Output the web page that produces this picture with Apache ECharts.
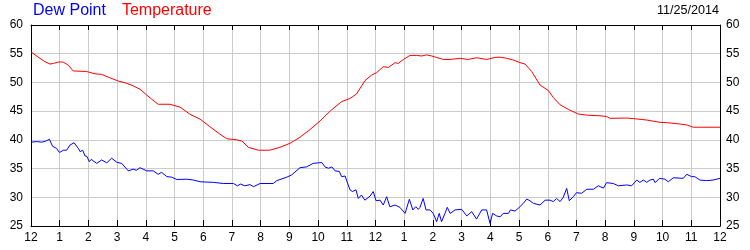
<!DOCTYPE html>
<html><head><meta charset="utf-8">
<script src="https://cdn.jsdelivr.net/npm/echarts@6/dist/echarts.min.js"></script>
<style>html,body{margin:0;padding:0;background:#fff}#c{width:750px;height:250px}</style>
</head><body><div id="c"></div>
<script>
var hourLabels = ["12","1","2","3","4","5","6","7","8","9","10","11","12","1","2","3","4","5","6","7","8","9","10","11","12"];
var yTicks = [25,30,35,40,45,50,55,60];
var dateText = "11/25/2014";

var tempHours = [0,0.31,0.49,0.66,0.78,0.95,1.12,1.30,1.47,1.94,2.23,2.46,2.75,3.04,3.33,3.56,3.80,4.03,4.20,4.43,4.84,5.19,5.54,5.89,6.23,6.58,6.82,7.17,7.35,7.57,7.92,8.32,8.67,9.02,9.37,9.72,10.07,10.44,10.82,11.11,11.34,11.63,11.87,12.04,12.27,12.45,12.68,12.79,12.97,13.2,13.43,13.61,13.78,13.96,14.13,14.36,14.6,14.94,15.23,15.52,15.87,16.16,16.34,16.57,16.8,17.03,17.21,17.44,17.73,18.02,18.19,18.43,18.72,19.06,19.36,19.82,20.05,20.17,20.75,20.98,21.45,21.91,22.14,22.61,22.84,23.07,23.3,24];
var tempValues = [55.3,54.2,53.6,53.2,53.3,53.55,53.55,53.0,52.0,51.9,51.5,51.4,50.8,50.25,49.85,49.4,48.8,47.8,47.1,46.2,46.2,45.7,44.45,43.6,42.3,41.0,40.2,40.0,39.8,38.7,38.2,38.2,38.7,39.4,40.45,41.8,43.3,45.1,46.65,47.2,48.0,50.3,51.3,51.7,52.75,52.6,53.45,53.3,54.0,54.7,54.7,54.6,54.8,54.6,54.35,54.0,54.0,54.2,54.0,54.3,54.0,54.35,54.4,54.2,53.9,53.45,53.2,51.9,49.55,48.6,47.4,46.1,45.3,44.5,44.3,44.2,44.05,43.75,43.8,43.7,43.45,43.05,43.0,42.75,42.6,42.2,42.2,42.2];

var dewHours = [0,0.2,0.37,0.5,0.64,0.75,0.89,0.99,1.13,1.24,1.36,1.50,1.65,1.71,1.80,1.88,1.95,2.03,2.1,2.29,2.46,2.64,2.81,2.99,3.16,3.39,3.56,3.67,3.8,4.03,4.26,4.43,4.55,4.73,4.9,5.08,5.42,5.66,5.89,6.35,6.70,7.05,7.19,7.3,7.45,7.63,7.75,7.98,8.44,8.56,8.91,9.08,9.37,9.6,9.83,10.01,10.13,10.24,10.36,10.48,10.59,10.74,10.82,10.94,11.11,11.2,11.32,11.40,11.51,11.63,11.81,11.92,12.02,12.16,12.27,12.39,12.5,12.68,12.85,13.03,13.18,13.3,13.4,13.49,13.55,13.66,13.76,13.9,14.01,14.13,14.22,14.3,14.42,14.5,14.6,14.77,15.0,15.18,15.35,15.52,15.7,15.87,15.99,16.08,16.22,16.34,16.45,16.63,16.7,16.86,17.03,17.15,17.27,17.38,17.5,17.73,17.91,18.08,18.19,18.31,18.43,18.54,18.66,18.75,18.89,19.0,19.18,19.36,19.59,19.76,19.94,20.05,20.28,20.46,20.75,20.92,21.1,21.21,21.33,21.45,21.56,21.68,21.74,21.89,22.08,22.2,22.37,22.72,22.84,23.01,23.12,23.3,23.53,23.76,24];
var dewValues = [39.6,39.7,39.6,39.75,40.1,38.9,38.5,37.8,38.2,38.2,39.1,39.5,38.5,37.95,38.2,37.2,37.1,36.2,36.6,35.9,36.5,36.0,36.8,36.1,35.9,34.6,34.9,34.7,35.15,34.6,34.6,34.0,34.35,33.6,33.5,33.1,33.15,33.0,32.7,32.6,32.4,32.4,32.0,32.3,32.0,32.2,31.85,32.4,32.4,32.9,33.5,33.9,35.15,35.3,35.9,36.0,36.05,35.3,35.05,35.3,34.6,34.5,33.6,33.7,31.3,31.0,31.3,29.8,30.4,29.5,30.2,31.0,29.4,29.5,28.65,30.1,28.35,28.65,28.25,27.2,29.65,27.8,28.35,27.9,28.25,29.8,27.8,27.8,27.2,25.75,27.2,25.75,27.2,28.25,27.2,27.8,27.9,26.75,27.5,26.2,27.8,27.8,25.45,27.2,26.75,26.6,27.2,27.2,27.8,27.6,28.35,28.95,29.7,29.4,28.95,28.65,29.5,29.5,29.25,29.8,29.25,30.0,31.55,29.4,30.1,30.8,30.7,31.4,31.4,32.0,31.6,32.55,32.4,32.0,32.15,32.0,33.0,32.6,33.0,32.6,33.0,33.15,32.55,33.3,33.15,32.7,33.4,33.3,34.0,33.6,33.6,33.0,32.9,33.0,33.3];

function pairs(xs, ys){ return xs.map(function(x,i){ return [x, ys[i]]; }); }

var chart = echarts.init(document.getElementById('c'), null, {renderer:'canvas'});
var labelStyle = {color:'#000', fontFamily:'Liberation Sans, Arial, sans-serif', fontSize:12};
chart.setOption({
  animation:false,
  backgroundColor:'#fff',
  textStyle:{fontFamily:'Liberation Sans, Arial, sans-serif'},
  grid:{left:31, right:30, top:25, bottom:24, containLabel:false},
  legend:{
    left:28, top:3, padding:0, icon:'none', itemWidth:0, itemHeight:16, itemGap:11,
    textStyle:{fontSize:16, fontFamily:'Liberation Sans, Arial, sans-serif'},
    data:[{name:'Dew Point', textStyle:{color:'#0000ff'}},{name:'Temperature', textStyle:{color:'#ff0000'}}]
  },
  title:{text:dateText, right:31, top:4, padding:0, textStyle:{fontSize:12.6, fontWeight:'normal', color:'#000', fontFamily:'Liberation Sans, Arial, sans-serif'}},
  xAxis:[{
    type:'value', min:0, max:24, interval:1, position:'bottom',
    axisLine:{show:true, onZero:false, lineStyle:{color:'#000', width:1}},
    axisTick:{show:true, inside:true, length:6, lineStyle:{color:'#000'}},
    axisLabel:Object.assign({margin:6, formatter:function(v){return hourLabels[Math.round(v)];}}, labelStyle),
    splitLine:{show:true, lineStyle:{color:'#cccccc', width:1}}
  },{
    type:'value', min:0, max:24, interval:1, position:'top',
    axisLine:{show:true, onZero:false, lineStyle:{color:'#000', width:1}},
    axisTick:{show:true, inside:true, length:5, lineStyle:{color:'#000'}},
    axisLabel:{show:false}, splitLine:{show:false}
  }],
  yAxis:[{
    type:'value', min:yTicks[0], max:yTicks[yTicks.length-1], interval:5, position:'left',
    axisLine:{show:true, onZero:false, lineStyle:{color:'#000', width:1}},
    axisTick:{show:false},
    axisLabel:Object.assign({margin:8}, labelStyle),
    splitLine:{show:true, lineStyle:{color:'#cccccc', width:1}}
  },{
    type:'value', min:yTicks[0], max:yTicks[yTicks.length-1], interval:5, position:'right',
    axisLine:{show:true, onZero:false, lineStyle:{color:'#000', width:1}},
    axisTick:{show:false},
    axisLabel:Object.assign({margin:6}, labelStyle),
    splitLine:{show:false}
  }],
  series:[{
    name:'Dew Point', type:'line', showSymbol:false, symbol:'none',
    data:pairs(dewHours, dewValues), lineStyle:{color:'#0000ff', width:1}, itemStyle:{color:'#0000ff'}
  },{
    name:'Temperature', type:'line', showSymbol:false, symbol:'none',
    data:pairs(tempHours, tempValues), lineStyle:{color:'#ff0000', width:1}, itemStyle:{color:'#ff0000'}
  }]
});
</script></body></html>
